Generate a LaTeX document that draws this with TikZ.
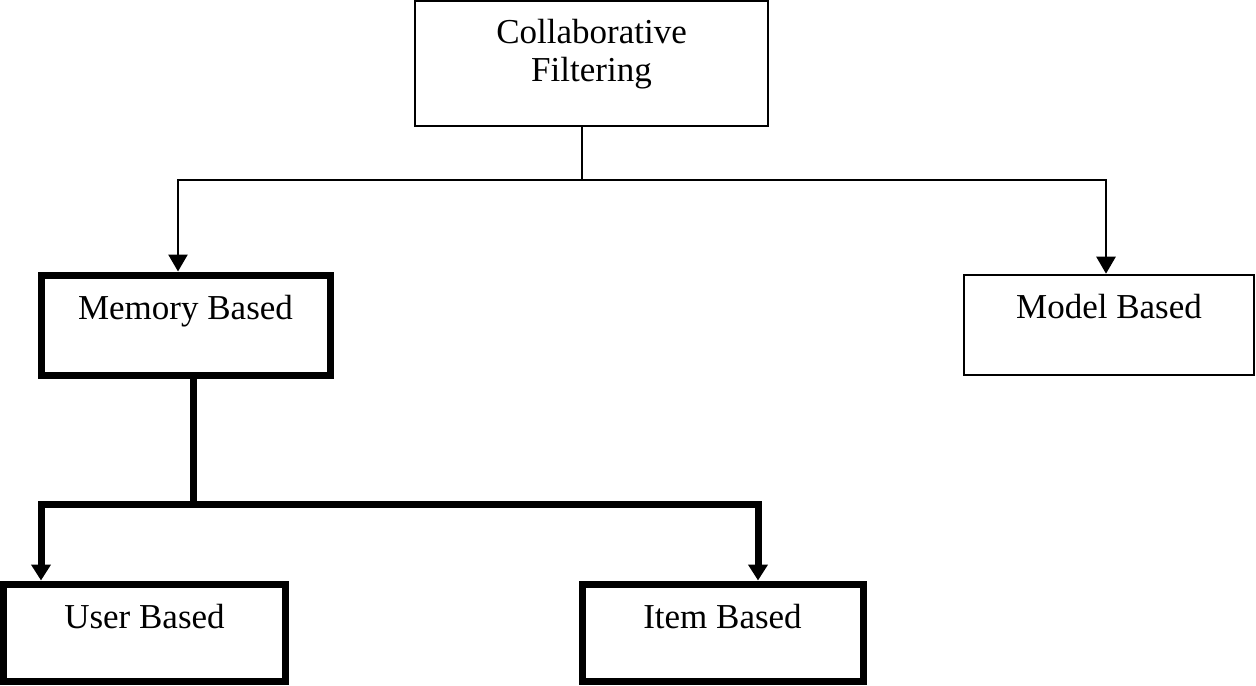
\documentclass[tikz,border=0pt]{standalone}
\usepackage{fontspec}
\setmainfont{Liberation Serif}
\usetikzlibrary{arrows.meta}
\begin{document}
\begin{tikzpicture}[x=.5pt, y=-.5pt, font=\fontsize{17.5pt}{19pt}\selectfont,
	box/.style={draw, rectangle, inner sep=0pt, line width=1.3pt, align=center},
	boldbox/.style={box, line width=3.5pt},
	thinarrow/.style={line width=1.3pt, -{Triangle[length=8.5pt,width=9.5pt]}},
	boldarrow/.style={line width=3.5pt, -{Triangle[length=8pt,width=9.5pt]}}]
		\useasboundingbox (0,0) rectangle (1256,685);
		\node[box, minimum width=176.5pt, minimum height=62.5pt, text height=40pt, text depth=22.5pt] (CF) at (591.5,63.5) {Collaborative\\Filtering};
		\node[boldbox, minimum width=144.5pt, text height=22pt, text depth=28pt] (MB) at (185.5,325) {Memory Based};
		\node[box, minimum width=145pt, text height=21.5pt, text depth=28.5pt] (MoB) at (1109,325) {Model Based};
		\node[boldbox, minimum width=141pt, text height=22pt, text depth=26.5pt] (UB) at (144.5,632.5) {User Based};
		\node[boldbox, minimum width=140.5pt, text height=22pt, text depth=26.5pt] (IB) at (722.5,632.5) {Item Based};
		\coordinate (S1) at (582,180);
		\coordinate (S2) at (193,504);
		\draw[line width=1.3pt] (CF.south -| S1)--(S1);
		\draw[thinarrow] (S1) -| ([xshift=-3.75pt]MB.north);
		\draw[thinarrow] (S1) -| ([xshift=-1.5pt]MoB.north);
		\draw[line width=3.5pt] (MB.south -| S2)--(S2);
		\draw[boldarrow] (S2) -| ([xshift=-51.75pt]UB.north);
		\draw[boldarrow] (S2) -| ([xshift=17.75pt]IB.north);
		\end{tikzpicture}
\end{document}
